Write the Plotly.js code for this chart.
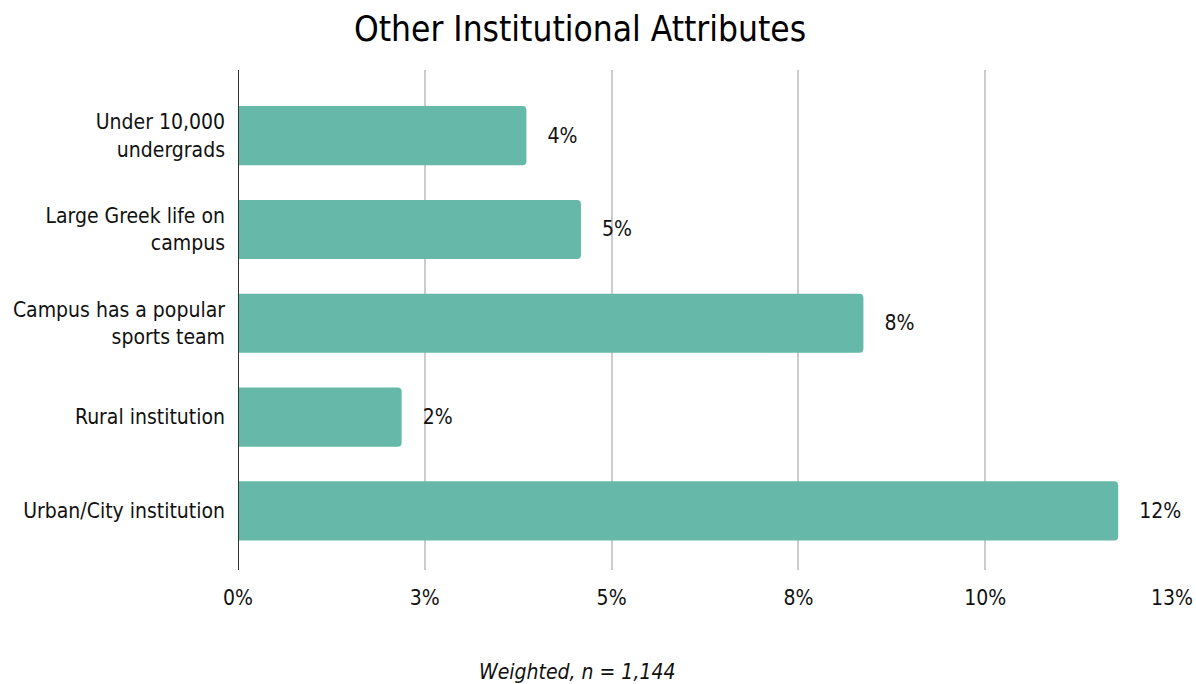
<!DOCTYPE html>
<html>
<head>
<meta charset="utf-8">
<script src="https://cdn.plot.ly/plotly-3.0.1.min.js"></script>
<style>html,body{margin:0;padding:0;background:#fff;}#chart{width:1196px;height:684px;}</style>
</head>
<body>
<div id="chart"></div>
<script>
const categories = ["Under 10,000<br>undergrads", "Large Greek life on<br>campus", "Campus has a popular<br>sports team", "Rural institution", "Urban/City institution"];
const values = [3.86, 4.59, 8.37, 2.19, 11.78];
const valueLabels = ["4%", "5%", "8%", "2%", "12%"];
const tickValues = [0, 2.5, 5, 7.5, 10, 12.5];
const tickLabels = ["0%", "3%", "5%", "8%", "10%", "13%"];

const FONT = "'DejaVu Sans Condensed', 'DejaVu Sans', sans-serif";

const trace = {
  type: 'bar',
  orientation: 'h',
  y: categories,
  x: values,
  text: valueLabels.map(t => '\u00a0\u00a0\u00a0' + t),
  textposition: 'outside',
  cliponaxis: false,
  textfont: {family: FONT, size: 21, color: '#111'},
  marker: {color: '#66b8a8', cornerradius: 4},
  width: 0.63,
  hoverinfo: 'none'
};

const layout = {
  width: 1196, height: 684,
  margin: {l: 238, r: 24, t: 70, b: 114},
  paper_bgcolor: '#fff', plot_bgcolor: '#fff',
  showlegend: false,
  font: {family: FONT, size: 21, color: '#111'},
  title: {text: 'Other Institutional Attributes', font: {family: FONT, size: 35, color: '#000'}, x: 0.485, xref: 'container', xanchor: 'center', y: 0.958, yref: 'container', yanchor: 'middle'},
  xaxis: {
    range: [0, 12.5], tickvals: tickValues, ticktext: tickLabels,
    showgrid: true, gridcolor: '#cccccc', gridwidth: 2,
    zeroline: false, showline: false, ticks: '',
    tickfont: {family: FONT, size: 21, color: '#111'}, ticklabelstandoff: 13
  },
  yaxis: {
    type: 'category', range: [4.63, -0.7],
    showgrid: false, zeroline: false, showline: false, ticks: '',
    tickfont: {family: FONT, size: 21, color: '#111'}, ticklabelstandoff: 12
  },
  shapes: [{type: 'line', xref: 'x', yref: 'paper', x0: 0, x1: 0, y0: 0, y1: 1, line: {color: '#333', width: 2}}],
  annotations: [{text: '<i>Weighted, n = 1,144</i>', xref: 'paper', yref: 'paper', x: (577 - 238) / 934, y: (570 - 672) / 500, xanchor: 'center', yanchor: 'middle', showarrow: false, font: {family: FONT, size: 21, color: '#111'}}]
};

Plotly.newPlot('chart', [trace], layout, {displayModeBar: false, staticPlot: true});
</script>
</body>
</html>
